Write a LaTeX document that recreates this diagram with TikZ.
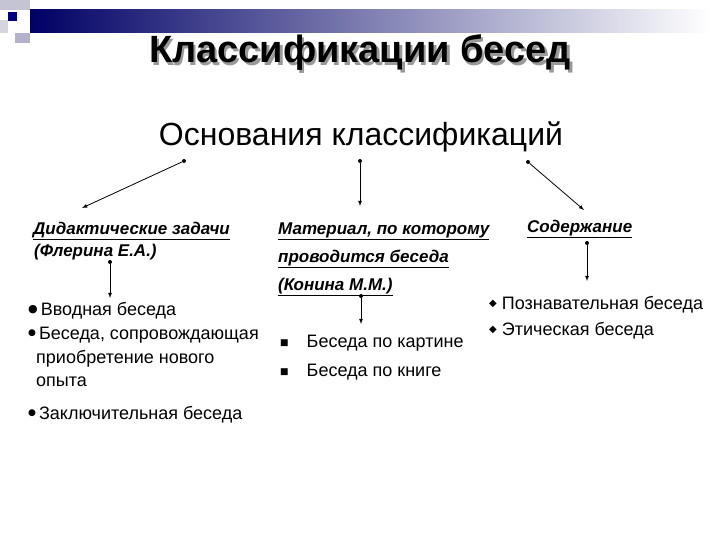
\documentclass[tikz,border=0pt]{standalone}
\usepackage{fontspec}
\setmainfont{Liberation Sans}
\newfontfamily\djv{DejaVu Sans}
\newcommand{\mybul}[2]{\raisebox{#2}{\djv\fontsize{#1}{10}\selectfont●}}
\begin{document}
\begin{tikzpicture}[x=1pt,y=-1pt,
  lbl/.style={anchor=west,inner sep=0pt,font=\fontsize{18}{20}\selectfont},
  hdr/.style={anchor=west,inner sep=0pt,font=\fontsize{17}{19}\selectfont\bfseries\itshape},
  arr/.style={-latex,line width=0.8pt},
  dot/.style={circle,fill=black,inner sep=0pt,minimum size=4pt}]
\useasboundingbox (0,0) rectangle (720,540);
\fill[white] (0,0) rectangle (720,540);
% decoration
\shade[left color=blue!40!black,right color=white] (30,10) rectangle (710,33);
\fill[blue!15!gray!40] (0,0) rectangle (30,10);
\fill[blue!20!gray!50] (15,33) rectangle (30,43);
\fill[blue!10!gray!30] (0,20) rectangle (8,33);
\fill[blue!50!black] (8,12) rectangle (17,21);
% title
\node[font=\fontsize{38}{40}\selectfont\bfseries,text=gray!80] (shadow) at (362.5,55.5) {Классификации бесед};
\node[font=\fontsize{38}{40}\selectfont\bfseries] (title) at (360,53) {Классификации бесед};
\node[font=\fontsize{32}{34}\selectfont] (base) at (361,137) {Основания классификаций};
% dots
\node[dot] (d1) at (184,161) {};
\node[dot] (d2) at (360,161) {};
\node[dot] (d3) at (528,162) {};
\coordinate (e1) at (82,208);
\coordinate (e2) at (360,206);
\coordinate (e3) at (584,210);
\draw[arr] (d1) -- (e1);
\draw[arr] (d2) -- (e2);
\draw[arr] (d3) -- (e3);
% headers
\node[hdr] (h1) at (33,231) {\underline{Дидактические задачи}};
\node[hdr] (h1b) at (34,252) {(Флерина Е.А.)};
\node[hdr] (h2) at (278,231) {\underline{Материал, по которому}};
\node[hdr] (h2b) at (278,259) {\underline{проводится беседа}};
\node[hdr] (h2c) at (278,287) {\underline{(Конина М.М.)}};
\node[hdr] (h3) at (527,229) {\underline{Содержание}};
% down arrows
\node[dot] (s1) at (110,262) {};
\node[dot] (s2) at (361,296) {};
\node[dot] (s3) at (587,243) {};
\coordinate (t1) at (110,298);
\coordinate (t2) at (361,324);
\coordinate (t3) at (587,281);
\draw[arr] (s1) -- (t1);
\draw[arr] (s2) -- (t2);
\draw[arr] (s3) -- (t3);
% left list
\node[lbl] (l1) at (28,311) {\mybul{11}{3pt}\,Вводная беседа};
\node[lbl] (l2) at (28,335) {\mybul{9}{4pt}\,Беседа, сопровождающая};
\node[lbl] (l3) at (36,359) {приобретение нового};
\node[lbl] (l4) at (36,382) {опыта};
\node[lbl] (l5) at (28,415) {\mybul{9}{4pt}\,Заключительная беседа};
% middle list
\node[lbl] (m1) at (280,343) {\raisebox{2pt}{\djv\fontsize{9}{10}\selectfont■}\quad Беседа по картине};
\node[lbl] (m2) at (280,372) {\raisebox{2pt}{\djv\fontsize{9}{10}\selectfont■}\quad Беседа по книге};
% right list
\node[lbl] (r1) at (489,305) {\raisebox{3pt}{\djv\fontsize{10}{10}\selectfont◆}\ Познавательная беседа};
\node[lbl] (r2) at (489,331) {\raisebox{3pt}{\djv\fontsize{10}{10}\selectfont◆}\ Этическая беседа};
\end{tikzpicture}
\end{document}
